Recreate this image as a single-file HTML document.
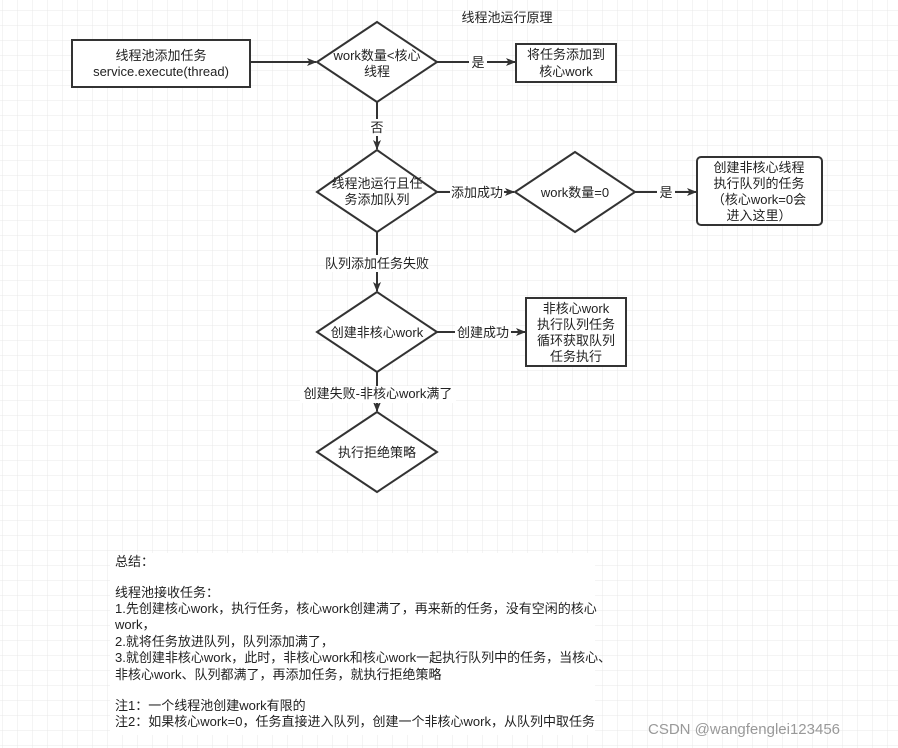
<!DOCTYPE html>
<html><head><meta charset="utf-8"><style>
html,body{margin:0;padding:0;background:#fff;}
svg{display:block;}
text{font-family:"Liberation Sans","Noto Sans CJK SC",sans-serif;font-size:13px;fill:#222;}
</style></head><body>
<svg width="898" height="748" viewBox="0 0 898 748" xmlns="http://www.w3.org/2000/svg">
<defs>
<pattern id="g" x="2" y="10" width="15" height="15" patternUnits="userSpaceOnUse">
<path d="M0 0V15M0 0H15" stroke="#e8e8e8" stroke-width="1" fill="none"/>
</pattern>
<marker id="a" markerWidth="10" markerHeight="10" refX="9" refY="5" orient="auto" markerUnits="userSpaceOnUse">
<path d="M0 1L10 5L0 9L2.5 5Z" fill="#333"/>
</marker>
</defs>
<rect width="898" height="748" fill="url(#g)"/>
<rect x="110" y="553" width="485" height="182" fill="#fff"/>
<g stroke="#333" stroke-width="2" fill="#fff">
<rect x="72" y="40" width="178" height="47"/>
<path d="M377 22L437 62L377 102L317 62Z"/>
<rect x="516" y="44" width="100" height="38"/>
<path d="M377 150L437 192L377 232L317 192Z"/>
<path d="M575 152L635 192L575 232L515 192Z"/>
<rect x="697" y="157" width="125" height="68" rx="4"/>
<path d="M377 292L437 332L377 372L317 332Z"/>
<rect x="526" y="298" width="100" height="68"/>
<path d="M377 412L437 452L377 492L317 452Z"/>
</g>
<g stroke="#333" stroke-width="2" fill="none" marker-end="url(#a)">
<line x1="250" y1="62" x2="316" y2="62"/>
<line x1="437" y1="62" x2="515" y2="62"/>
<line x1="377" y1="102" x2="377" y2="149"/>
<line x1="437" y1="192" x2="514" y2="192"/>
<line x1="635" y1="192" x2="696" y2="192"/>
<line x1="377" y1="232" x2="377" y2="291"/>
<line x1="437" y1="332" x2="525" y2="332"/>
<line x1="377" y1="372" x2="377" y2="411"/>
</g>
<g fill="#fff">
<rect x="469" y="54" width="18" height="16"/>
<rect x="369" y="119" width="16" height="17"/>
<rect x="450" y="184" width="54" height="16"/>
<rect x="657" y="184" width="18" height="16"/>
<rect x="325" y="255" width="104" height="17"/>
<rect x="455" y="324" width="56" height="16"/>
<rect x="300" y="386" width="156" height="17"/>
</g>
<g text-anchor="middle">
<text x="507" y="22">线程池运行原理</text>
<text x="161" y="60">线程池添加任务</text>
<text x="161" y="76">service.execute(thread)</text>
<text x="377" y="60">work数量&lt;核心</text>
<text x="377" y="76">线程</text>
<text x="478" y="67">是</text>
<text x="566" y="59">将任务添加到</text>
<text x="566" y="76">核心work</text>
<text x="377" y="132">否</text>
<text x="377" y="188">线程池运行且任</text>
<text x="377" y="204">务添加队列</text>
<text x="477" y="197">添加成功</text>
<text x="575" y="197">work数量=0</text>
<text x="666" y="197">是</text>
<text x="759" y="172">创建非核心线程</text>
<text x="759" y="188">执行队列的任务</text>
<text x="759" y="204">（核心work=0会</text>
<text x="759" y="220">进入这里）</text>
<text x="377" y="268">队列添加任务失败</text>
<text x="377" y="337">创建非核心work</text>
<text x="483" y="337">创建成功</text>
<text x="576" y="313">非核心work</text>
<text x="576" y="329">执行队列任务</text>
<text x="576" y="345">循环获取队列</text>
<text x="576" y="361">任务执行</text>
<text x="378" y="398">创建失败-非核心work满了</text>
<text x="377" y="457">执行拒绝策略</text>
</g>
<g>
<text x="115" y="566">总结：</text>
<text x="115" y="597">线程池接收任务：</text>
<text x="115" y="613">1.先创建核心work，执行任务，核心work创建满了，再来新的任务，没有空闲的核心</text>
<text x="115" y="629">work，</text>
<text x="115" y="646">2.就将任务放进队列，队列添加满了，</text>
<text x="115" y="662">3.就创建非核心work，此时，非核心work和核心work一起执行队列中的任务，当核心、</text>
<text x="115" y="679">非核心work、队列都满了，再添加任务，就执行拒绝策略</text>
<text x="115" y="710">注1：一个线程池创建work有限的</text>
<text x="115" y="726">注2：如果核心work=0，任务直接进入队列，创建一个非核心work，从队列中取任务</text>
</g>
<text x="648" y="734" style="font-size:15px;fill:#999;">CSDN @wangfenglei123456</text>
</svg>
</body></html>
